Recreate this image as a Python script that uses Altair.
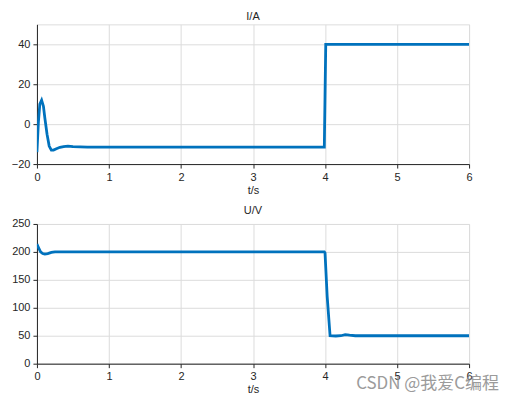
import altair as alt
import pandas as pd

# Current I/A
t_i = [0, 0.02, 0.04, 0.065, 0.09, 0.11, 0.14, 0.17, 0.2, 0.23, 0.27, 0.32, 0.37, 0.43, 0.5, 0.7, 1, 2, 3, 3.99, 4.0, 4.01, 5, 6]
i_v = [-14, 1, 10, 12, 9, 3, -5, -11, -13, -13, -12.3, -11.6, -11.2, -11, -11.3, -11.5, -11.5, -11.5, -11.5, -11.5, 14, 40, 40, 40]

# Voltage U/V
t_u = [0, 0.02, 0.05, 0.08, 0.11, 0.15, 0.2, 0.25, 0.35, 1, 2, 3, 3.99, 4.0, 4.03, 4.07, 4.15, 4.22, 4.28, 4.34, 4.42, 5, 6]
u_v = [214, 208, 200, 197, 196, 197, 199, 200, 200, 200, 200, 200, 200, 198, 120, 50, 49.5, 50, 52, 51, 50, 50, 50]

x_ticks = [0, 1, 2, 3, 4, 5, 6]
i_ticks = [-20, 0, 20, 40]
u_ticks = [0, 50, 100, 150, 200, 250]

df_i = pd.DataFrame({"t": t_i, "v": i_v})
df_u = pd.DataFrame({"t": t_u, "v": u_v})

FONT = "Liberation Sans"
LINE = "#0072BD"

def axis_x():
    return alt.Axis(values=x_ticks, title="t/s", grid=True, gridColor="#dcdcdc",
                    domainColor="#262626", tickColor="#262626", tickSize=4,
                    labelFont=FONT, labelFontSize=11, labelColor="#262626",
                    titleFont=FONT, titleFontSize=11, titleFontWeight="normal",
                    titleColor="#262626", labelPadding=3, titlePadding=2, labelFlush=False)

def axis_y(vals):
    return alt.Axis(values=vals, title=None, grid=True, gridColor="#dcdcdc",
                    domainColor="#262626", tickColor="#262626", tickSize=4,
                    labelFont=FONT, labelFontSize=11, labelColor="#262626",
                    labelPadding=3, labelFlush=False)

def panel(df, dom, ticks, title):
    return alt.Chart(df).mark_line(color=LINE, strokeWidth=2.8, clip=True).encode(
        x=alt.X("t:Q", scale=alt.Scale(domain=[0, 6], nice=False), axis=axis_x()),
        y=alt.Y("v:Q", scale=alt.Scale(domain=dom, nice=False), axis=axis_y(ticks)),
    ).properties(
        width=433, height=140,
        title=alt.TitleParams(title, font=FONT, fontSize=11, fontWeight="normal",
                              color="#262626", offset=2),
    )

top = panel(df_i, [-20, 50], i_ticks, "I/A")
bottom_line = panel(df_u, [0, 250], u_ticks, "U/V")

wm = alt.Chart(pd.DataFrame({"txt": ["CSDN @我爱C编程"]})).mark_text(
    font="Noto Sans CJK SC", fontSize=17, color="#8a8a8a", opacity=0.85,
    align="right", baseline="middle", clip=False
).encode(x=alt.value(463), y=alt.value(160), text="txt:N")

bottom = alt.layer(bottom_line, wm)

chart = alt.vconcat(top, bottom, spacing=8).configure_view(
    stroke="#262626", strokeWidth=1
).configure(background="white", padding={"left": 2, "top": 2, "right": 5, "bottom": 0})

chart.save("out.html", embed_options={"renderer": "svg", "actions": False})
